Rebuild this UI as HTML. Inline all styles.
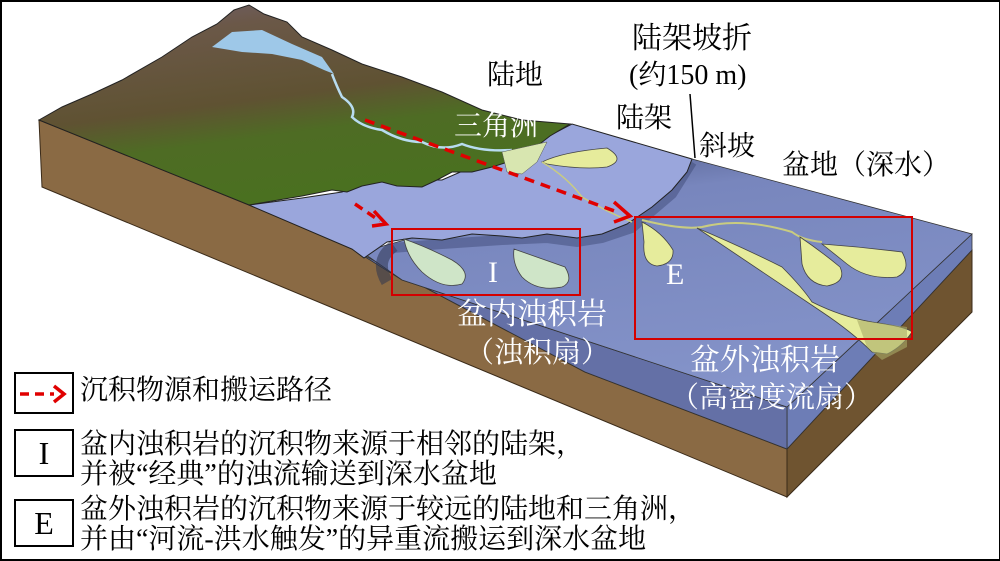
<!DOCTYPE html>
<html><head><meta charset="utf-8"><style>
html,body{margin:0;padding:0;background:#fff}
#c{position:relative;width:1000px;height:561px;overflow:hidden;box-sizing:border-box;border:2px solid #000;border-right-width:1px}
svg{position:absolute;left:0;top:0}
.t{position:absolute;font-family:"Liberation Serif","Noto Serif CJK SC",serif;white-space:nowrap;line-height:1}
.w{color:#fff}
.b{color:#000}
.lg{position:absolute;left:78px;font-family:"Liberation Serif","Noto Serif CJK SC",serif;font-size:28px;line-height:30px;color:#000;white-space:nowrap}
.box{position:absolute;left:12px;width:56px;border:2px solid #000;background:#fff;font-family:"Liberation Serif",serif;font-size:32px;text-align:center}
</style></head><body><div id="c">
<svg width="1000" height="561" viewBox="0 0 1000 561">
<defs>
<linearGradient id="land" x1="0" y1="0" x2="0.35" y2="1">
<stop offset="0" stop-color="#6e6070"/><stop offset="0.2" stop-color="#6b5848"/><stop offset="0.55" stop-color="#5f5232"/><stop offset="0.72" stop-color="#4e6c24"/><stop offset="1" stop-color="#4a7020"/></linearGradient>
<linearGradient id="deep" x1="0" y1="0" x2="0.3" y2="1">
<stop offset="0" stop-color="#4f5a88"/><stop offset="0.25" stop-color="#7886bd"/><stop offset="1" stop-color="#8493c9"/></linearGradient>
</defs>
<polygon points="37,118 247,203 350,247 583,370 785,447 785,495 40,185" fill="#8a6a44" stroke="#3a2a18" stroke-width="1"/>
<polygon points="785,447 970,248 970,310 785,495" fill="#6f5430" stroke="#3a2a18" stroke-width="1"/>
<polygon points="785,405 970,232 970,248 785,447" fill="#6d7db6" stroke="#333" stroke-width="0.8"/>
<polygon points="352,248 400,278 785,405 785,447 583,370" fill="#6470a6" stroke="#333" stroke-width="0.8"/>
<polygon points="360,250 690,157 970,232 785,405 400,278" fill="url(#deep)" stroke="#333" stroke-width="0.8"/>
<path d="M392,244 Q372,258 385,280" stroke="#2e3550" stroke-width="12" fill="none" opacity="0.55"/>
<path d="M690,160 L670,192 L630,226 L600,236 L575,240 L545,236 L500,238 L440,242 L390,246" stroke="#3a4470" stroke-width="10" fill="none" opacity="0.45"/>
<polygon points="247,203 300,196 340,190 360,182 380,176 395,174 410,178 440,178 470,165 500,158 520,152 545,135 570,122 690,157 685,170 670,188 650,205 625,222 600,232 575,236 545,232 520,236 500,234 470,232 440,238 410,236 385,240 362,256 350,247" fill="#9aa6dc" stroke="#222" stroke-width="1"/>
<polygon points="37,118 60,105 90,92 120,78 160,55 190,35 215,22 232,8 247,3 262,12 285,20 300,35 330,48 360,62 400,75 440,90 480,108 520,118 568,122 548,134 530,148 512,158 490,165 470,170 450,170 435,178 420,185 395,184 380,180 360,184 345,190 330,188 300,194 247,203" fill="url(#land)" stroke="#222" stroke-width="1"/>
<polygon points="210,45 230,30 260,28 290,42 320,55 332,72 322,68 300,58 270,52 240,50" fill="#9ec8e8"/>
<path d="M330,72 Q335,85 340,95 Q355,105 350,115 Q360,125 380,128 Q400,140 420,140 Q440,150 460,142 Q480,150 510,148" stroke="#b8dcf0" stroke-width="2.5" fill="none"/>
<polygon points="500,150 545,140 535,160 520,172 505,170" fill="#d8e6b0" stroke="#555" stroke-width="0.5"/>
<path d="M540,160 Q560,150 605,146 Q625,158 605,165 Q580,168 545,162Z" fill="#e6ec9c" stroke="#444" stroke-width="0.8"/>
<path d="M540,160 Q565,175 580,195 Q605,210 630,220" stroke="#c9cc80" stroke-width="1.5" fill="none"/>
<path d="M402,237 Q425,245 450,258 Q470,270 460,282 Q440,288 420,270 Q405,255 402,237Z" fill="#cfe5c8" stroke="#444" stroke-width="0.8"/>
<path d="M512,247 Q535,255 563,265 Q572,280 560,285 Q535,290 520,275 Q510,262 512,247Z" fill="#cfe5c8" stroke="#444" stroke-width="0.8"/>
<path d="M640,220 Q660,230 671,248 Q672,262 655,264 Q640,262 642,240Z" fill="#e6ec9c" stroke="#444" stroke-width="0.8"/>
<path d="M640,218 Q680,228 700,225 Q740,215 790,230 Q800,238 820,240" stroke="#c9cc80" stroke-width="2" fill="none"/>
<path d="M798,235 Q820,250 838,265 Q845,280 825,284 Q805,282 800,262Z" fill="#e6ec9c" stroke="#444" stroke-width="0.8"/>
<path d="M820,242 Q860,245 900,250 Q910,268 895,275 Q865,278 845,262Z" fill="#e6ec9c" stroke="#444" stroke-width="0.8"/>
<path d="M695,226 Q740,245 780,265 Q800,285 810,300 Q840,315 870,320 Q905,325 910,330 Q900,345 885,352 L870,350 Q850,330 820,310Z" fill="#e6ec9c" stroke="#444" stroke-width="0.8"/>
<polygon points="855,318 905,325 905,345 880,358 865,345" fill="#a8ab68" opacity="0.6"/>
<rect x="390" y="227" width="188" height="66" fill="none" stroke="#d40000" stroke-width="2"/>
<rect x="633" y="215" width="277" height="122" fill="none" stroke="#d40000" stroke-width="2"/>
<line x1="363" y1="118" x2="618" y2="211" stroke="#e00000" stroke-width="3.5" stroke-dasharray="10,7"/>
<polyline points="612,200 628,214 612,220" fill="none" stroke="#e00000" stroke-width="3.5"/>
<line x1="353" y1="202" x2="378" y2="219" stroke="#e00000" stroke-width="3.5" stroke-dasharray="9,6"/>
<polyline points="372,209 384,222 370,224" fill="none" stroke="#e00000" stroke-width="3.5"/>
<line x1="688" y1="92" x2="693" y2="156" stroke="#000" stroke-width="1.5"/>
<line x1="18" y1="392" x2="52" y2="392" stroke="#e00000" stroke-width="3.5" stroke-dasharray="9,6"/>
<polyline points="52,384 62,392 52,400" fill="none" stroke="#e00000" stroke-width="3.5"/>
</svg>
<div class="box" style="top:370px;height:38px;background:transparent"></div>
<div class="box" style="top:427px;height:44px;line-height:44px">I</div>
<div class="box" style="top:497px;height:44px;line-height:44px">E</div>
<div class="lg" style="top:374px">沉积物源和搬运路径</div>
<div class="lg" style="top:428px">盆内浊积岩的沉积物来源于相邻的陆架，<br>并被“经典”的浊流输送到深水盆地</div>
<div class="lg" style="top:493px">盆外浊积岩的沉积物来源于较远的陆地和三角洲，<br>并由“河流-洪水触发”的异重流搬运到深水盆地</div>
<div class="t b" style="left:485px;top:60px;font-size:28px">陆地</div>
<div class="t b" style="left:630px;top:22px;font-size:30px">陆架坡折</div>
<div class="t b" style="left:627px;top:60px;font-size:28px">(约150 m)</div>
<div class="t b" style="left:614px;top:103px;font-size:28px">陆架</div>
<div class="t b" style="left:697px;top:131px;font-size:28px">斜坡</div>
<div class="t b" style="left:780px;top:150px;font-size:28px">盆地（深水）</div>
<div class="t w" style="left:452px;top:111px;font-size:28px">三角洲</div>
<div class="t w" style="left:486px;top:256px;font-size:30px">I</div>
<div class="t w" style="left:664px;top:258px;font-size:30px">E</div>
<div class="t w" style="left:455px;top:298px;font-size:30px">盆内浊积岩</div>
<div class="t w" style="left:463px;top:337px;font-size:29px">（浊积扇）</div>
<div class="t w" style="left:688px;top:344px;font-size:30px">盆外浊积岩</div>
<div class="t w" style="left:668px;top:382px;font-size:29px">（高密度流扇）</div>
</div></body></html>
